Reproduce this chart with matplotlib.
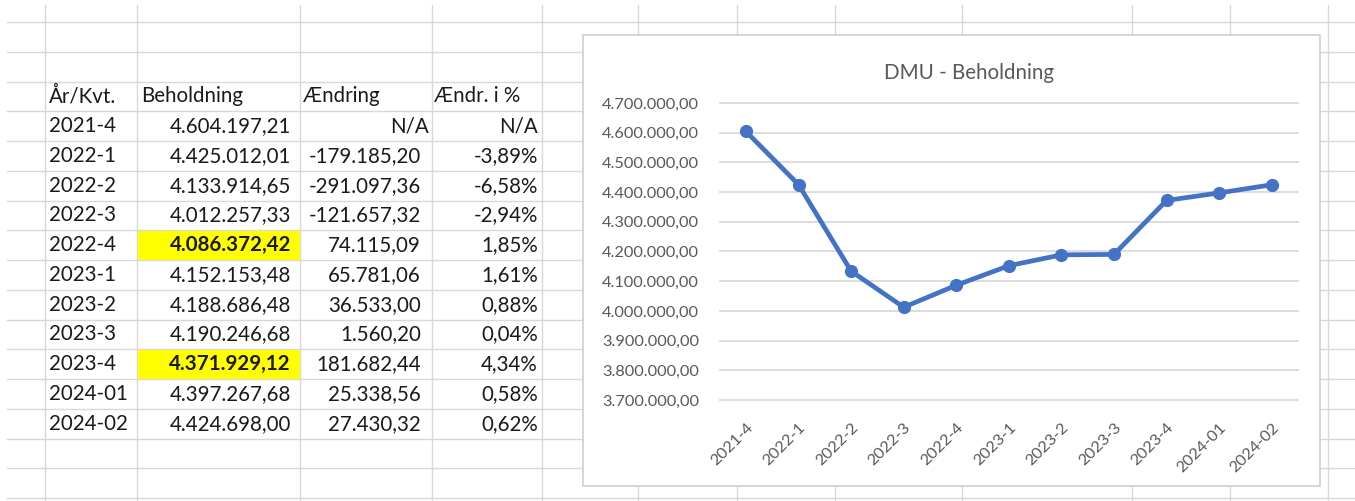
import matplotlib
matplotlib.use('Agg')
import matplotlib.pyplot as plt
from matplotlib.patches import Rectangle
from matplotlib.ticker import FuncFormatter

plt.rcParams['font.family'] = ['Lato', 'DejaVu Sans']

# table / chart data
periods = ['2021-4', '2022-1', '2022-2', '2022-3', '2022-4', '2023-1',
           '2023-2', '2023-3', '2023-4', '2024-01', '2024-02']
beholdning = [4604197.21, 4425012.01, 4133914.65, 4012257.33, 4086372.42,
              4152153.48, 4188686.48, 4190246.68, 4371929.12, 4397267.68,
              4424698.00]
aendring = [None, -179185.20, -291097.36, -121657.32, 74115.09, 65781.06,
            36533.00, 1560.20, 181682.44, 25338.56, 27430.32]
aendr_pct = [None, -3.89, -6.58, -2.94, 1.85, 1.61, 0.88, 0.04, 4.34, 0.58, 0.62]
highlighted = ['2022-4', '2023-4']
headers = ['År/Kvt.', 'Beholdning', 'Ændring', 'Ændr. i %']
y_ticks = [3700000, 3800000, 3900000, 4000000, 4100000, 4200000,
           4300000, 4400000, 4500000, 4600000, 4700000]
chart_title = 'DMU - Beholdning'


def dk(v):
    """Danish number format: 4.604.197,21"""
    s = f'{v:,.2f}'
    return s.replace(',', 'X').replace('.', ',').replace('X', '.')


W, H = 1355, 501
fig = plt.figure(figsize=(W / 100, H / 100), dpi=100)
fig.patch.set_facecolor('white')

# spreadsheet background drawn in pixel coordinates
bg = fig.add_axes([0, 0, 1, 1])
bg.set_xlim(0, W)
bg.set_ylim(H, 0)
bg.axis('off')

grid_col = '#d8d8d8'
row_top = 22
row_h = 29.75
col_x = [45, 137, 300, 432, 542, 638, 737, 835, 962, 1132, 1230, 1328]

for k in range(17):
    y = row_top + k * row_h
    bg.plot([7, W], [y, y], color=grid_col, lw=1.0, zorder=1)
for x in col_x:
    bg.plot([x, x], [5, H], color=grid_col, lw=1.0, zorder=1)

# header row
hdr_y = row_top + 2.5 * row_h
txt_col = '#1a1a1a'
fs = 14.8
bg.text(49, hdr_y, headers[0], fontsize=fs, color=txt_col, va='center', ha='left')
bg.text(141, hdr_y, headers[1], fontsize=fs, color=txt_col, va='center', ha='left')
bg.text(303, hdr_y, headers[2], fontsize=fs, color=txt_col, va='center', ha='left')
bg.text(434, hdr_y, headers[3], fontsize=fs, color=txt_col, va='center', ha='left')

for i, p in enumerate(periods):
    top = row_top + (3 + i) * row_h
    yc = top + row_h / 2
    bold = p in highlighted
    if bold:
        bg.add_patch(Rectangle((138, top + 0.5), 162, row_h - 1,
                               facecolor='#ffff00', edgecolor='none', zorder=2))
    bg.text(49, yc, p, fontsize=fs, color=txt_col, va='center', ha='left', zorder=3)
    bg.text(291, yc, dk(beholdning[i]), fontsize=fs, color=txt_col, va='center',
            ha='right', fontweight='bold' if bold else 'normal', zorder=3)
    if aendring[i] is None:
        bg.text(429, yc, 'N/A', fontsize=fs, color=txt_col, va='center', ha='right', zorder=3)
        bg.text(538, yc, 'N/A', fontsize=fs, color=txt_col, va='center', ha='right', zorder=3)
    else:
        bg.text(421, yc, dk(aendring[i]), fontsize=fs, color=txt_col,
                va='center', ha='right', zorder=3)
        bg.text(538, yc, f'{aendr_pct[i]:.2f}%'.replace('.', ','), fontsize=fs,
                color=txt_col, va='center', ha='right', zorder=3)

# chart box
bg.add_patch(Rectangle((583, 35), 737, 451, facecolor='white',
                       edgecolor='#cfcfcf', lw=1.2, zorder=5))
bg.text(969, 73, chart_title, fontsize=14.8, color='#595959',
        ha='center', va='center', zorder=6)

# plot area
px_left, px_right, px_top, px_bottom = 719.7, 1298, 103, 400
ax = fig.add_axes([px_left / W, (H - px_bottom) / H,
                   (px_right - px_left) / W, (px_bottom - px_top) / H])
ax.patch.set_alpha(0)
x = list(range(len(periods)))
ax.plot(x, beholdning, color='#4472c4', lw=3.4, marker='o', markersize=8.5,
        solid_capstyle='round', solid_joinstyle='round', zorder=3)
ax.set_xlim(-0.5, len(periods) - 0.5)
ax.set_ylim(y_ticks[0], y_ticks[-1])
ax.set_yticks(y_ticks)
ax.yaxis.set_major_formatter(FuncFormatter(lambda v, pos: dk(v)))
ax.set_xticks(x)
ax.set_xticklabels(periods, rotation=45, ha='right', rotation_mode='anchor')
ax.tick_params(axis='both', length=0, labelsize=11.8, labelcolor='#595959')
ax.tick_params(axis='y', pad=15)
ax.tick_params(axis='x', pad=15)
for s in ax.spines.values():
    s.set_visible(False)
ax.yaxis.grid(True, color='#d9d9d9', lw=1.3)
for gl in ax.get_ygridlines():
    gl.set_clip_on(False)
ax.set_axisbelow(True)

plt.savefig('out.png', dpi=100)
plt.close()
